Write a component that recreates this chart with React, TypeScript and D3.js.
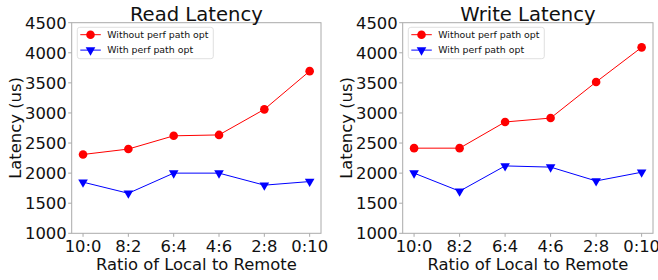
import { useEffect, useRef } from 'react'
import * as d3 from 'd3'

const RATIOS = ['10:0', '8:2', '6:4', '4:6', '2:8', '0:10']
const Y_TICKS = [1000, 1500, 2000, 2500, 3000, 3500, 4000, 4500]

const READ_WITHOUT = [2310, 2400, 2620, 2635, 3060, 3695]
const READ_WITH = [1850, 1665, 2000, 2000, 1800, 1860]
const WRITE_WITHOUT = [2415, 2415, 2850, 2915, 3515, 4090]
const WRITE_WITH = [2000, 1700, 2120, 2100, 1870, 2015]

const SERIES_NAMES = ['Without perf path opt', 'With perf path opt']

const W = 658
const H = 280
const FONT = '"DejaVu Sans", sans-serif'

type Panel = {
  title: string
  without: number[]
  withOpt: number[]
  left: number
  right: number
}

const PANELS: Panel[] = [
  { title: 'Read Latency', without: READ_WITHOUT, withOpt: READ_WITH, left: 71.7, right: 321 },
  { title: 'Write Latency', without: WRITE_WITHOUT, withOpt: WRITE_WITH, left: 402.7, right: 653 },
]

export default function App() {
  const ref = useRef<SVGSVGElement>(null)

  useEffect(() => {
    const svg = d3.select(ref.current)
    svg.selectAll('*').remove()
    const top = 22.7
    const bottom = 233.3

    PANELS.forEach((p) => {
      const x = d3.scaleLinear().domain([-0.25, RATIOS.length - 0.75]).range([p.left, p.right])
      const y = d3.scaleLinear().domain([1000, 4500]).range([bottom, top])
      const g = svg.append('g')

      g.append('rect')
        .attr('x', p.left)
        .attr('y', top)
        .attr('width', p.right - p.left)
        .attr('height', bottom - top)
        .attr('fill', 'white')
        .attr('stroke', '#aaaaaa')
        .attr('stroke-width', 1)

      // y ticks
      Y_TICKS.forEach((t) => {
        g.append('line')
          .attr('x1', p.left - 3.5)
          .attr('x2', p.left)
          .attr('y1', y(t))
          .attr('y2', y(t))
          .attr('stroke', '#aaaaaa')
        g.append('text')
          .attr('x', p.left - 5)
          .attr('y', y(t))
          .attr('dy', '0.36em')
          .attr('text-anchor', 'end')
          .style('font-family', FONT)
          .style('font-size', '16.4px')
          .attr('fill', '#111')
          .text(t)
      })

      // x ticks
      RATIOS.forEach((r, i) => {
        g.append('line')
          .attr('x1', x(i))
          .attr('x2', x(i))
          .attr('y1', bottom)
          .attr('y2', bottom + 3.5)
          .attr('stroke', '#aaaaaa')
        g.append('text')
          .attr('x', x(i))
          .attr('y', 251.7)
          .attr('text-anchor', 'middle')
          .style('font-family', FONT)
          .style('font-size', '16.4px')
          .attr('fill', '#111')
          .text(r)
      })

      g.append('text')
        .attr('x', (p.left + p.right) / 2)
        .attr('y', 269.5)
        .attr('text-anchor', 'middle')
        .style('font-family', FONT)
        .style('font-size', '16.4px')
        .attr('fill', '#111')
        .text('Ratio of Local to Remote')

      g.append('text')
        .attr('transform', `translate(${p.left - 51},${(top + bottom) / 2}) rotate(-90)`)
        .attr('text-anchor', 'middle')
        .style('font-family', FONT)
        .style('font-size', '16.4px')
        .attr('fill', '#111')
        .text('Latency (us)')

      g.append('text')
        .attr('x', (p.left + p.right) / 2)
        .attr('y', 20.5)
        .attr('text-anchor', 'middle')
        .style('font-family', FONT)
        .style('font-size', '19.6px')
        .attr('fill', '#111')
        .text(p.title)

      const line = d3
        .line<number>()
        .x((_, i) => x(i))
        .y((d) => y(d))

      g.append('path').datum(p.without).attr('d', line).attr('fill', 'none').attr('stroke', 'red').attr('stroke-width', 1)
      g.append('path').datum(p.withOpt).attr('d', line).attr('fill', 'none').attr('stroke', 'blue').attr('stroke-width', 1)

      g.selectAll('circle.pt')
        .data(p.without)
        .join('circle')
        .attr('class', 'pt')
        .attr('cx', (_, i) => x(i))
        .attr('cy', (d) => y(d))
        .attr('r', 4.3)
        .attr('fill', 'red')

      const tri = d3.symbol().type(d3.symbolTriangle).size(40)
      g.selectAll('path.tri')
        .data(p.withOpt)
        .join('path')
        .attr('class', 'tri')
        .attr('d', tri)
        .attr('transform', (d, i) => `translate(${x(i)},${y(d)}) rotate(180)`)
        .attr('fill', 'blue')

      // legend
      const lx = p.left + 5.6
      const ly = top + 4.6
      g.append('rect')
        .attr('x', lx)
        .attr('y', ly)
        .attr('width', 136)
        .attr('height', 31.4)
        .attr('rx', 2.5)
        .attr('fill', 'white')
        .attr('fill-opacity', 0.8)
        .attr('stroke', '#d8d8d8')
        .attr('stroke-width', 0.8)
      const colors = ['red', 'blue']
      SERIES_NAMES.forEach((name, k) => {
        const yy = ly + 7.4 + k * 15.4
        g.append('line')
          .attr('x1', lx + 3)
          .attr('x2', lx + 23.5)
          .attr('y1', yy)
          .attr('y2', yy)
          .attr('stroke', colors[k])
          .attr('stroke-width', 1)
        if (k === 0) {
          g.append('circle').attr('cx', lx + 13.2).attr('cy', yy).attr('r', 4.3).attr('fill', 'red')
        } else {
          g.append('path')
            .attr('d', tri)
            .attr('transform', `translate(${lx + 13.2},${yy}) rotate(180)`)
            .attr('fill', 'blue')
        }
        g.append('text')
          .attr('x', lx + 30)
          .attr('y', yy)
          .attr('dy', '0.36em')
          .style('font-family', FONT)
          .style('font-size', '9.4px')
          .attr('fill', '#111')
          .text(name)
      })
    })
  }, [])

  return (
    <div style={{ position: 'fixed', left: 0, top: 0 }}>
      <svg ref={ref} width={W} height={H} style={{ display: 'block', background: 'white' }} />
    </div>
  )
}
